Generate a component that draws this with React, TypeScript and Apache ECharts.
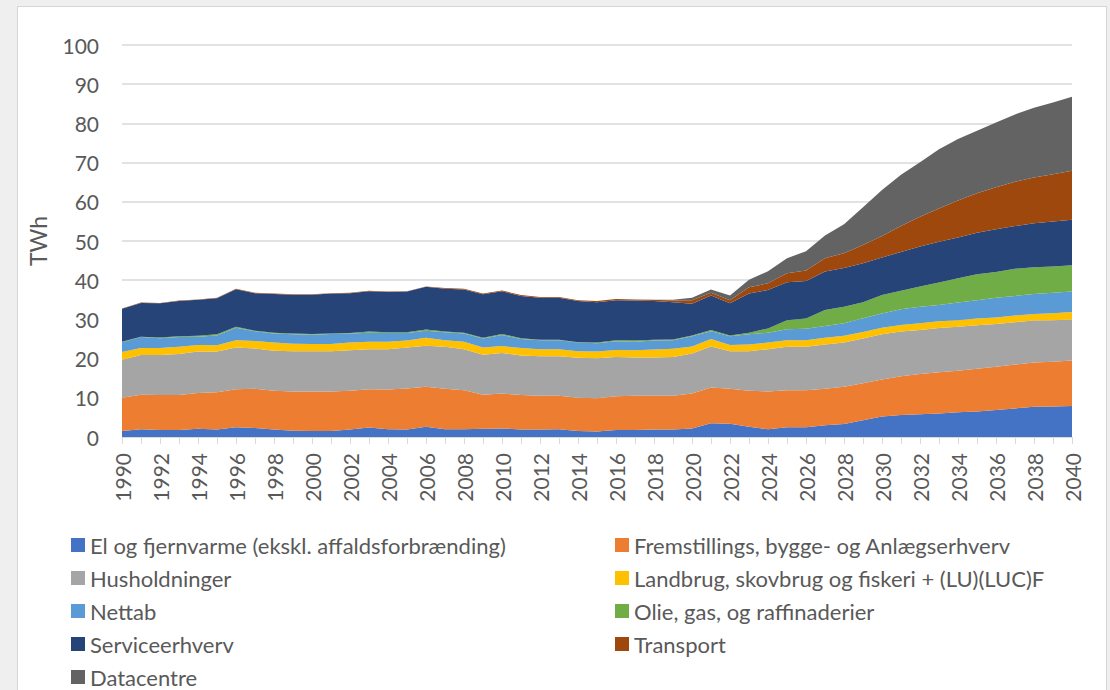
import React, { useEffect, useRef } from "react";
import * as echarts from "echarts";

const years = [
  "1990", "1991", "1992", "1993", "1994", "1995", "1996", "1997", "1998", "1999",
  "2000", "2001", "2002", "2003", "2004", "2005", "2006", "2007", "2008", "2009",
  "2010", "2011", "2012", "2013", "2014", "2015", "2016", "2017", "2018", "2019",
  "2020", "2021", "2022", "2023", "2024", "2025", "2026", "2027", "2028", "2029",
  "2030", "2031", "2032", "2033", "2034", "2035", "2036", "2037", "2038", "2039",
  "2040",
];

const elFjernvarme = [
  1.5, 2.0, 1.8, 1.8, 2.1, 1.9, 2.5, 2.3, 1.9, 1.6,
  1.5, 1.5, 1.9, 2.4, 2.0, 1.9, 2.6, 2.0, 2.0, 2.1,
  2.2, 1.9, 1.9, 2.0, 1.5, 1.4, 1.8, 1.8, 1.9, 1.9,
  2.2, 3.5, 3.4, 2.6, 2.0, 2.5, 2.5, 3.0, 3.3, 4.3,
  5.2, 5.6, 5.8, 6.0, 6.3, 6.5, 6.9, 7.3, 7.7, 7.8,
  7.9,
];

const fremstillings = [
  8.5, 8.8, 8.9, 8.9, 9.1, 9.5, 9.7, 10.0, 9.9, 10.0,
  10.1, 10.1, 9.9, 9.8, 10.1, 10.5, 10.2, 10.3, 9.9, 8.7,
  8.9, 8.8, 8.6, 8.5, 8.5, 8.5, 8.6, 8.7, 8.6, 8.6,
  8.9, 9.1, 8.9, 9.2, 9.6, 9.4, 9.4, 9.3, 9.5, 9.4,
  9.5, 9.9, 10.3, 10.5, 10.6, 10.9, 11.0, 11.2, 11.3, 11.4,
  11.6,
];

const husholdninger = [
  9.7, 10.1, 10.2, 10.5, 10.6, 10.4, 10.6, 10.3, 10.2, 10.3,
  10.3, 10.3, 10.3, 10.2, 10.3, 10.4, 10.5, 10.7, 10.5, 10.2,
  10.3, 10.1, 10.1, 10.1, 10.2, 10.2, 10.0, 9.8, 9.8, 9.9,
  10.2, 10.5, 9.6, 10.1, 10.8, 11.1, 11.1, 11.3, 11.3, 11.4,
  11.5, 11.4, 11.2, 11.3, 11.2, 11.1, 10.9, 10.8, 10.7, 10.6,
  10.5,
];

const landbrug = [
  2.0, 1.8, 1.8, 1.8, 1.7, 1.6, 1.9, 1.9, 2.1, 1.9,
  1.8, 1.8, 2.0, 1.9, 1.9, 1.8, 2.0, 1.7, 1.9, 1.8,
  1.8, 1.9, 1.8, 1.8, 1.7, 1.7, 1.8, 1.8, 2.0, 2.1,
  1.8, 1.9, 1.6, 1.7, 1.7, 1.7, 1.7, 1.7, 1.7, 1.7,
  1.7, 1.7, 1.7, 1.7, 1.7, 1.7, 1.7, 1.7, 1.7, 1.8,
  1.9,
];

const nettab = [
  2.5, 2.8, 2.5, 2.5, 2.1, 2.5, 3.2, 2.5, 2.3, 2.4,
  2.4, 2.6, 2.3, 2.3, 2.2, 1.9, 1.8, 2.0, 2.1, 2.3,
  2.8, 2.3, 2.3, 2.3, 2.2, 2.1, 2.2, 2.2, 2.3, 2.2,
  2.6, 2.0, 2.2, 2.6, 2.5, 2.8, 2.9, 3.0, 3.2, 3.5,
  3.6, 4.0, 4.2, 4.2, 4.5, 4.7, 5.0, 5.0, 5.1, 5.2,
  5.2,
];

const olieGas = [
  0.1, 0.1, 0.2, 0.2, 0.2, 0.3, 0.2, 0.1, 0.2, 0.2,
  0.2, 0.1, 0.1, 0.3, 0.2, 0.2, 0.3, 0.2, 0.2, 0.2,
  0.3, 0.2, 0.1, 0.1, 0.1, 0.2, 0.3, 0.3, 0.2, 0.2,
  0.2, 0.3, 0.2, 0.4, 1.1, 2.3, 2.6, 4.1, 4.2, 4.1,
  4.7, 4.7, 5.2, 5.7, 6.2, 6.6, 6.6, 6.9, 6.8, 6.7,
  6.7,
];

const serviceerhverv = [
  8.4, 8.6, 8.7, 9.0, 9.2, 9.2, 9.6, 9.6, 9.9, 9.9,
  10.0, 10.2, 10.2, 10.3, 10.3, 10.4, 10.9, 10.9, 11.0, 11.1,
  10.9, 10.8, 10.7, 10.7, 10.5, 10.3, 10.2, 10.2, 9.9, 9.5,
  8.1, 8.8, 8.2, 10.0, 9.8, 9.7, 9.6, 9.8, 9.9, 9.9,
  9.6, 9.9, 10.2, 10.4, 10.4, 10.6, 10.9, 10.9, 11.2, 11.5,
  11.6,
];

const transport = [
  0.1, 0.1, 0.1, 0.1, 0.1, 0.1, 0.1, 0.1, 0.1, 0.1,
  0.1, 0.1, 0.1, 0.1, 0.1, 0.1, 0.1, 0.2, 0.2, 0.2,
  0.2, 0.2, 0.2, 0.2, 0.2, 0.3, 0.3, 0.3, 0.3, 0.4,
  0.9, 0.7, 0.8, 1.6, 1.7, 2.3, 2.7, 3.4, 3.8, 4.7,
  5.5, 6.6, 7.6, 8.5, 9.4, 10.1, 10.7, 11.3, 11.7, 12.0,
  12.5,
];

const datacentre = [
  0, 0, 0, 0, 0, 0, 0, 0, 0, 0,
  0, 0, 0, 0, 0, 0, 0, 0, 0, 0,
  0, 0, 0, 0, 0, 0, 0, 0, 0, 0.2,
  0.6, 0.8, 1.2, 1.9, 3.1, 3.8, 4.9, 5.8, 7.4, 9.6,
  11.7, 13.1, 13.9, 15.1, 15.7, 15.9, 16.5, 17.2, 17.8, 18.3,
  18.9,
];

const seriesNames = [
  "El og fjernvarme (ekskl. affaldsforbrænding)",
  "Fremstillings, bygge- og Anlægserhverv",
  "Husholdninger",
  "Landbrug, skovbrug og fiskeri + (LU)(LUC)F",
  "Nettab",
  "Olie, gas, og raffinaderier",
  "Serviceerhverv",
  "Transport",
  "Datacentre",
];
const seriesData = [
  elFjernvarme, fremstillings, husholdninger, landbrug, nettab,
  olieGas, serviceerhverv, transport, datacentre,
];
const seriesColors = [
  "#4472C4", "#ED7D31", "#A5A5A5", "#FFC000", "#5B9BD5",
  "#70AD47", "#264478", "#9E480E", "#636363",
];

const yTicks = { min: 0, max: 100, interval: 10 };
const yTitle = "TWh";

const FONT = "Lato, 'Noto Sans', sans-serif";
const TXT = "#595959";
const GRIDC = "#d9d9d9";

export default function App() {
  const ref = useRef<HTMLDivElement>(null);
  useEffect(() => {
    const chart = echarts.init(ref.current!, null, { renderer: "svg" });
    const legendText = { color: TXT, fontSize: 22, fontFamily: FONT, lineHeight: 22 };
    const legendBase = {
      orient: "vertical",
      top: 534,
      height: 156,
      padding: 0,
      itemWidth: 14,
      itemHeight: 14,
      itemGap: 11,
      icon: "rect",
      textStyle: legendText,
      selectedMode: false,
    };
    chart.setOption({
      animation: false,
      textStyle: { fontFamily: FONT },
      grid: { left: 122, right: 38, top: 45, bottom: 253, containLabel: false },
      legend: [
        {
          ...legendBase,
          left: 71,
          data: [seriesNames[0], seriesNames[2], seriesNames[4], seriesNames[6], seriesNames[8]],
        },
        {
          ...legendBase,
          left: 615,
          data: [seriesNames[1], seriesNames[3], seriesNames[5], seriesNames[7]],
        },
      ],
      xAxis: {
        type: "category",
        data: years,
        boundaryGap: false,
        axisLine: { lineStyle: { color: GRIDC, width: 1 } },
        axisTick: { show: true, interval: 0, length: 7, lineStyle: { color: GRIDC } },
        axisLabel: {
          interval: 1,
          rotate: 90,
          margin: 16,
          color: TXT,
          fontSize: 21,
          fontFamily: FONT,
        },
        splitLine: { show: false },
      },
      yAxis: {
        type: "value",
        min: yTicks.min,
        max: yTicks.max,
        interval: yTicks.interval,
        name: yTitle,
        nameLocation: "middle",
        nameRotate: 90,
        nameGap: 73,
        nameTextStyle: { color: TXT, fontSize: 23, fontFamily: FONT },
        axisLine: { show: false },
        axisTick: { show: false },
        axisLabel: { color: TXT, fontSize: 21, fontFamily: FONT, margin: 23 },
        splitLine: { lineStyle: { color: GRIDC, width: 1.5 } },
      },
      series: seriesNames.map((name, i) => ({
        name,
        type: "line",
        stack: "total",
        data: seriesData[i],
        symbol: "none",
        showSymbol: false,
        lineStyle: { width: 0 },
        areaStyle: { color: seriesColors[i], opacity: 1 },
        itemStyle: { color: seriesColors[i] },
        emphasis: { disabled: true },
      })),
    });
    return () => chart.dispose();
  }, []);
  return (
    <div
      style={{
        position: "fixed",
        left: 0,
        top: 0,
        width: 1110,
        height: 690,
        background: "#efefef",
        overflow: "hidden",
      }}
    >
      <div
        style={{
          position: "absolute",
          left: 17,
          top: 6,
          width: 1090,
          height: 720,
          boxSizing: "border-box",
          background: "#ffffff",
          border: "1px solid #d6d6d6",
        }}
      />
      <div ref={ref} style={{ position: "absolute", left: 0, top: 0, width: 1110, height: 690 }} />
    </div>
  );
}
